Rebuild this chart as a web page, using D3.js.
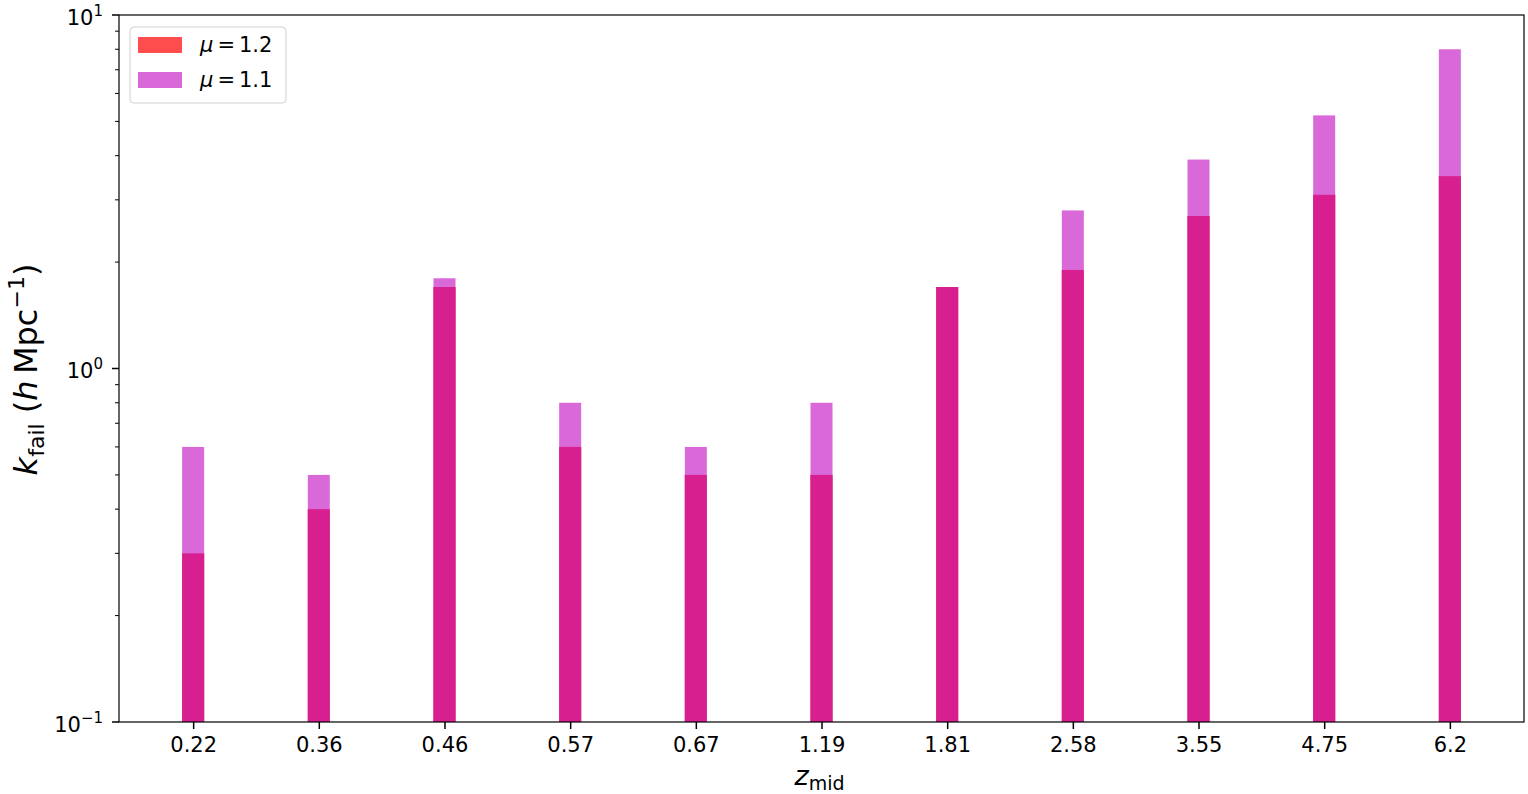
<!DOCTYPE html>
<html><head><meta charset="utf-8">
<script src="https://cdn.jsdelivr.net/npm/d3@7"></script>
<style>body{margin:0;background:#fff;} text{font-family:"DejaVu Sans",sans-serif;}</style>
</head><body>
<svg id="c" width="1528" height="794"></svg>
<script>
const categories = ["0.22","0.36","0.46","0.57","0.67","1.19","1.81","2.58","3.55","4.75","6.2"];
const mu12 = [0.30,0.40,1.70,0.60,0.50,0.50,1.70,1.90,2.70,3.10,3.50];
const mu11 = [0.60,0.50,1.80,0.80,0.60,0.80,1.70,2.80,3.90,5.20,8.00];
const seriesNames = ["1.2","1.1"];
const yTicks = [0.1,1,10];
const yTickExp = ["\u22121","0","1"];

const colRed = "#ff4c4c", colOrchid = "#d968d8", colOverlap = "#d81f8f";
const svg = d3.select("#c");
const L=119,R=1524,T=15,B=722;
const x = d3.scalePoint().domain(categories).range([L,R]).padding(0.59);
const y = d3.scaleLog().domain([0.1,10]).range([B,T]);
const bw = 22;

const g = svg.append("g");
g.selectAll(".r").data(mu12).join("rect")
 .attr("x",(d,i)=>x(categories[i])-bw/2).attr("width",bw)
 .attr("y",d=>y(d)).attr("height",d=>B-y(d)).attr("fill",colRed);
g.selectAll(".o").data(mu11).join("rect")
 .attr("x",(d,i)=>x(categories[i])-bw/2).attr("width",bw)
 .attr("y",d=>y(d)).attr("height",d=>B-y(d)).attr("fill",colOrchid);
g.selectAll(".v").data(mu11.map((d,i)=>Math.min(d,mu12[i]))).join("rect")
 .attr("x",(d,i)=>x(categories[i])-bw/2).attr("width",bw)
 .attr("y",d=>y(d)).attr("height",d=>B-y(d)).attr("fill",colOverlap);

svg.append("rect").attr("x",L).attr("y",T).attr("width",R-L).attr("height",B-T)
 .attr("fill","none").attr("stroke","#000").attr("stroke-width",1.2);

const xa = svg.append("g").attr("transform",`translate(0,${B})`)
 .call(d3.axisBottom(x).tickSize(7).tickPadding(8));
xa.select(".domain").remove();
xa.selectAll("line").attr("stroke-width",1.5);
xa.selectAll("text").attr("font-size",21).attr("fill","#000");

const minor=[];
for(const dec of [0.1,1]) for(let k=2;k<=9;k++) minor.push(dec*k);
const ya = svg.append("g");
ya.selectAll(".mn").data(minor).join("line")
 .attr("x1",L-4).attr("x2",L).attr("y1",d=>y(d)).attr("y2",d=>y(d))
 .attr("stroke","#000").attr("stroke-width",1);
ya.selectAll(".mj").data(yTicks).join("line")
 .attr("x1",L-7).attr("x2",L).attr("y1",d=>y(d)).attr("y2",d=>y(d))
 .attr("stroke","#000").attr("stroke-width",1.5);
yTicks.forEach((v,i)=>{
  const t = ya.append("text").attr("x",L-16).attr("y",y(v)+9.5).attr("text-anchor","end")
   .attr("font-size",21).attr("fill","#000");
  t.append("tspan").text("10");
  t.append("tspan").attr("dy",-9).attr("font-size",15).text(yTickExp[i]);
});

const xl = svg.append("text").attr("x",(L+R)/2 - 2).attr("y",785).attr("text-anchor","middle").attr("font-size",27);
xl.append("tspan").attr("font-style","italic").text("z");
xl.append("tspan").attr("dy",5).attr("font-size",19).text("mid");

const yl = svg.append("text").attr("transform",`translate(37,${(T+B)/2 + 1}) rotate(-90)`)
 .attr("text-anchor","middle").attr("font-size",32);
yl.append("tspan").attr("font-style","italic").text("k");
yl.append("tspan").attr("dy",7).attr("font-size",22).text("fail");
yl.append("tspan").attr("dy",-7).text(" (");
yl.append("tspan").attr("font-style","italic").text("h");
yl.append("tspan").text("\u2009Mpc");
yl.append("tspan").attr("dy",-13).attr("font-size",22).text("\u22121");
yl.append("tspan").attr("dy",13).text(")");

const lg = svg.append("g");
lg.append("rect").attr("x",130).attr("y",27).attr("width",156).attr("height",76).attr("rx",4)
 .attr("fill","#fff").attr("fill-opacity",0.8).attr("stroke","#d0d0d0");
[colRed,colOrchid].forEach((c,i)=>{
  lg.append("rect").attr("x",138).attr("y",37+i*35).attr("width",44).attr("height",16).attr("fill",c);
  const t = lg.append("text").attr("x",200).attr("y",52+i*35).attr("font-size",21);
  t.append("tspan").attr("font-style","italic").text("\u03bc");
  t.append("tspan").attr("dx",4).text("=");
  t.append("tspan").attr("dx",4).text(seriesNames[i]);
});
</script>
</body></html>
